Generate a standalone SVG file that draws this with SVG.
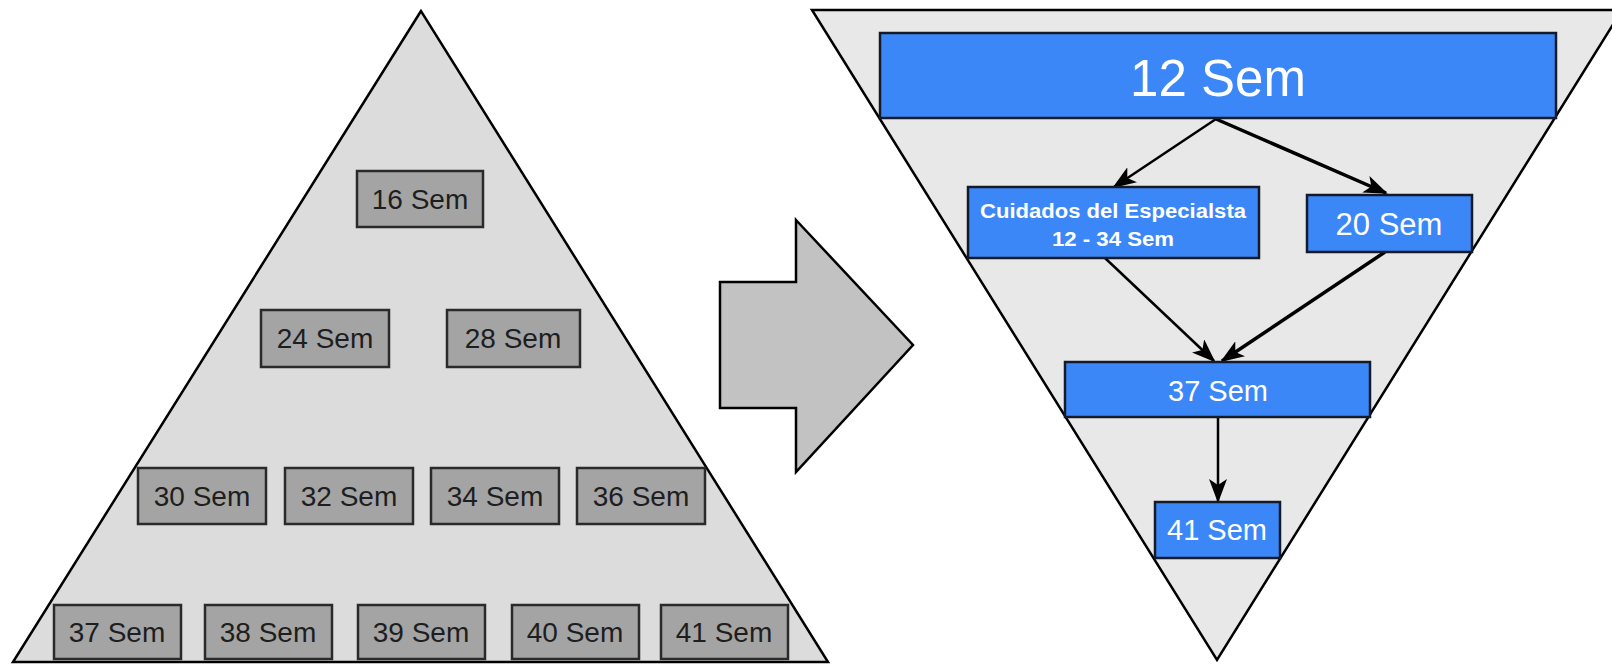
<svg xmlns="http://www.w3.org/2000/svg" width="1612" height="664" viewBox="0 0 1612 664">
<style>
.g rect{fill:#a4a4a4;stroke:#2a2a2a;stroke-width:2.5}
.g text{font-family:"Liberation Sans",Arial,sans-serif;font-size:28px;fill:#1e1e1e;text-anchor:middle}
.b rect{fill:#3b87f7;stroke:#151a28;stroke-width:2.5}
.b text{font-family:"Liberation Sans",Arial,sans-serif;fill:#ffffff;text-anchor:middle}
.c line{stroke:#000;fill:none}
</style>
<defs>
<marker id="ah" markerUnits="userSpaceOnUse" markerWidth="24" markerHeight="18" refX="22" refY="9" orient="auto">
<path d="M0,0 L24,9 L0,18 L6,9 z" fill="#000"/>
</marker>
</defs>
<rect width="1612" height="664" fill="#ffffff"/>
<g id="pyramid">
<polygon points="421,11 13,662 828,662" fill="#dcdcdc" stroke="#000" stroke-width="2.5" stroke-linejoin="miter"/>
</g>
<g id="n16" class="g"><rect x="357" y="171" width="126" height="56"/><text x="420" y="209">16 Sem</text></g>
<g id="n24" class="g"><rect x="261" y="310" width="128" height="57"/><text x="325" y="348">24 Sem</text></g>
<g id="n28" class="g"><rect x="447" y="310" width="133" height="57"/><text x="513" y="348">28 Sem</text></g>
<g id="n30" class="g"><rect x="138" y="468" width="128" height="56"/><text x="202" y="506">30 Sem</text></g>
<g id="n32" class="g"><rect x="285" y="468" width="128" height="56"/><text x="349" y="506">32 Sem</text></g>
<g id="n34" class="g"><rect x="431" y="468" width="128" height="56"/><text x="495" y="506">34 Sem</text></g>
<g id="n36" class="g"><rect x="577" y="468" width="128" height="56"/><text x="641" y="506">36 Sem</text></g>
<g id="n37l" class="g"><rect x="54" y="605" width="127" height="54"/><text x="117" y="642">37 Sem</text></g>
<g id="n38l" class="g"><rect x="205" y="605" width="127" height="54"/><text x="268" y="642">38 Sem</text></g>
<g id="n39l" class="g"><rect x="358" y="605" width="127" height="54"/><text x="421" y="642">39 Sem</text></g>
<g id="n40l" class="g"><rect x="512" y="605" width="127" height="54"/><text x="575" y="642">40 Sem</text></g>
<g id="n41l" class="g"><rect x="661" y="605" width="127" height="54"/><text x="724" y="642">41 Sem</text></g>
<g id="bigarrow">
<polygon points="796,220 913,345 796,472 796,408 720,408 720,282 796,282" fill="#c2c2c2" stroke="#000" stroke-width="2.5"/>
</g>
<g id="funnel">
<polygon points="812,10 1622,10 1217,660" fill="#e8e8e8" stroke="#000" stroke-width="2.5"/>
</g>
<g id="connectors" class="c">
<line x1="1216" y1="119" x2="1114" y2="187" stroke-width="2.5" marker-end="url(#ah)"/>
<line x1="1216" y1="119" x2="1386" y2="193" stroke-width="3.5" marker-end="url(#ah)"/>
<line x1="1105" y1="258" x2="1214" y2="361" stroke-width="2.5" marker-end="url(#ah)"/>
<line x1="1385" y1="252" x2="1222" y2="361" stroke-width="3.5" marker-end="url(#ah)"/>
<line x1="1218" y1="417" x2="1218" y2="501" stroke-width="2.5" marker-end="url(#ah)"/>
</g>
<g id="n12" class="b"><rect x="880" y="33" width="676" height="85"/><text x="1218" y="96" font-size="51">12 Sem</text></g>
<g id="ncuid" class="b"><rect x="968" y="187" width="291" height="71"/><text x="1113" y="218" font-size="20" font-weight="bold" textLength="266" lengthAdjust="spacingAndGlyphs">Cuidados del Especialsta</text><text x="1113" y="246" font-size="21" font-weight="bold" textLength="122" lengthAdjust="spacingAndGlyphs">12 - 34 Sem</text></g>
<g id="n20" class="b"><rect x="1307" y="195" width="165" height="57"/><text x="1389" y="235" font-size="31">20 Sem</text></g>
<g id="n37" class="b"><rect x="1065" y="362" width="305" height="55"/><text x="1218" y="401" font-size="29">37 Sem</text></g>
<g id="n41" class="b"><rect x="1155" y="502" width="125" height="56"/><text x="1217" y="540" font-size="29">41 Sem</text></g>
</svg>
